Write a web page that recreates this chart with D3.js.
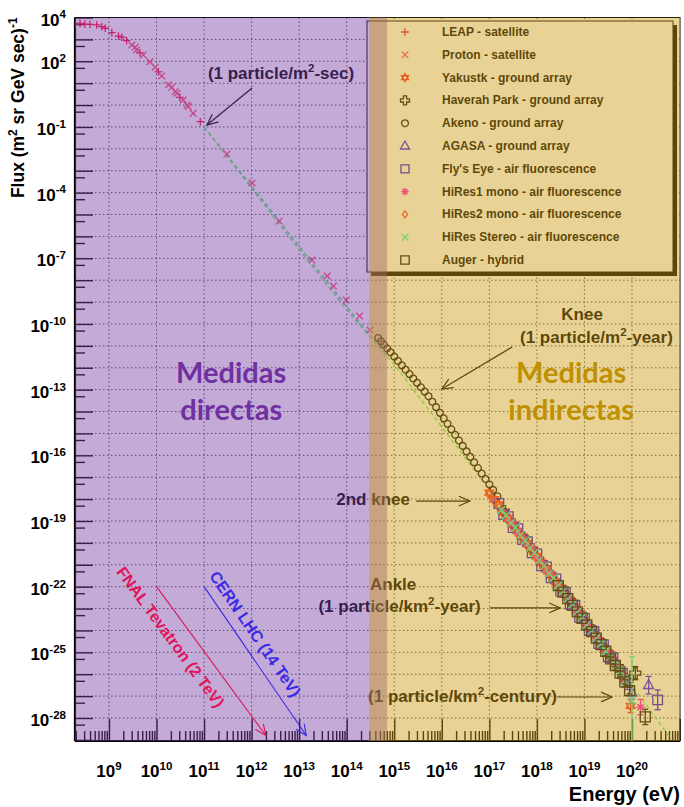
<!DOCTYPE html>
<html>
<head>
<meta charset="utf-8">
<script src="https://cdn.jsdelivr.net/npm/d3@7"></script>
<style>
  body { margin: 0; background: #ffffff; }
  svg { display: block; }
  text { font-family: "Liberation Sans", Arial, sans-serif; font-weight: bold; }
</style>
</head>
<body>
<div id="chart"></div>
<script>
// All values are log10(E / eV) and log10(flux)
const xTickExps = [9, 10, 11, 12, 13, 14, 15, 16, 17, 18, 19, 20];
const yTickExps = [4, 2, -1, -4, -7, -10, -13, -16, -19, -22, -25, -28];

// [logE, logFlux, optional error half-length in decades]
const leapPoints = [[8.28,3.70],[8.39,3.73],[8.49,3.70],[8.60,3.69],[8.74,3.66],[8.85,3.58],[8.92,3.51],
  [9.06,3.31],[9.20,3.15],[9.27,3.10],[9.37,2.94],[9.65,2.39],[10.04,1.52],[10.49,0.35],[10.92,-0.76]];
const protonPoints = [[9.48,2.74],[9.55,2.64],[9.58,2.52],[9.72,2.29],[9.86,1.98],[9.97,1.73],[10.11,1.33],
  [10.25,0.92],[10.32,0.81],[10.39,0.61],[10.43,0.54],[10.56,0.23],[10.64,0.00],[10.67,-0.07],[10.77,-0.38],
  [11.48,-2.24],[12.01,-3.56],[12.58,-5.30],[13.27,-7.08],[13.59,-7.81],[13.72,-8.27],[13.99,-8.91],
  [14.27,-9.64],[14.49,-10.28]];
const yakutskPoints = [[17.0,-17.7],[17.1,-18.0],[17.2,-18.25],[17.3,-18.6],[17.4,-18.85],[17.5,-19.15],
  [17.6,-19.45],[17.7,-19.7],[17.8,-20.0],[17.9,-20.3],[18.0,-20.6],[18.1,-20.9],[18.2,-21.15],[18.3,-21.45],
  [18.4,-21.75],[18.5,-22.05],[18.6,-22.35],[18.7,-22.6],[18.8,-22.95],[18.9,-23.2],[19.0,-23.55,0.06],
  [19.1,-23.85,0.07],[19.2,-24.1,0.08],[19.3,-24.45,0.1],[19.4,-24.75,0.12],[19.5,-25.0,0.14],
  [19.6,-25.35,0.16],[19.7,-25.7,0.2],[19.8,-26.05,0.25],[19.97,-27.45,0.3]];
const haverahPoints = [[17.3,-18.55],[17.5,-19.15],[17.7,-19.75],[17.9,-20.3],[18.1,-20.9],[18.3,-21.5],
  [18.5,-22.05],[18.7,-22.65],[18.9,-23.25],[19.1,-23.85,0.1],[19.3,-24.45,0.1],[19.5,-25.05,0.12],
  [19.7,-25.65,0.15],[19.9,-26.3,0.2],[20.07,-25.95,0.3]];
const akenoPoints = [[14.66,-10.64],[14.72,-10.79],[14.78,-10.94],[14.85,-11.12],[14.92,-11.29],[15.00,-11.49],
  [15.08,-11.69],[15.16,-11.89],[15.24,-12.09],[15.32,-12.29],[15.40,-12.49],[15.48,-12.69],[15.56,-12.89],
  [15.64,-13.09],[15.72,-13.30],[15.80,-13.55],[15.88,-13.80],[15.96,-14.06],[16.04,-14.31],[16.12,-14.56],
  [16.20,-14.81],[16.28,-15.06],[16.36,-15.32],[16.44,-15.57],[16.52,-15.82],[16.60,-16.07],[16.68,-16.32],
  [16.76,-16.58],[16.84,-16.83],[16.92,-17.08],[17.00,-17.33],[17.08,-17.58],[17.17,-17.87]];
const agasaPoints = [[18.5,-22.0],[18.6,-22.3],[18.7,-22.6],[18.8,-22.9],[18.9,-23.2],[19.0,-23.5,0.06],
  [19.1,-23.8,0.07],[19.2,-24.1,0.08],[19.3,-24.4,0.09],[19.4,-24.7,0.1],[19.5,-25.0,0.12],[19.6,-25.3,0.14],
  [19.7,-25.65,0.16],[19.8,-26.0,0.2],[19.9,-26.45,0.25],[20.0,-26.85,0.3],[20.35,-26.5,0.4]];
const flysEyePoints = [[17.2,-18.2],[17.3,-18.7],[17.4,-18.8],[17.5,-19.3],[17.6,-19.35],[17.7,-19.85],
  [17.8,-19.95],[17.9,-20.45],[18.0,-20.5],[18.1,-21.05],[18.2,-21.1],[18.3,-21.6],[18.4,-21.65],
  [18.5,-22.2,0.08],[18.6,-22.25,0.1],[18.7,-22.8,0.12],[18.8,-22.85,0.2],[18.9,-23.4,0.2],[19.0,-23.45,0.25],
  [19.1,-24.0,0.2],[19.2,-24.05,0.25],[19.3,-24.6,0.2],[19.4,-24.65,0.2],[19.5,-25.2,0.25],[19.6,-25.25,0.25],
  [19.8,-25.95,0.3],[20.54,-27.17,0.45]];
const hires1Points = [[17.4,-18.95],[17.5,-19.1],[17.6,-19.55],[17.7,-19.7],[17.8,-20.1],[17.9,-20.25],
  [18.0,-20.7],[18.1,-20.85],[18.2,-21.3],[18.3,-21.4],[18.4,-21.85],[18.5,-22.0],[18.6,-22.45],[18.7,-22.6],
  [18.8,-23.05],[18.9,-23.2],[19.0,-23.65],[19.1,-23.8],[19.2,-24.25,0.08],[19.3,-24.4,0.09],
  [19.4,-24.85,0.1],[19.5,-25.0,0.12],[19.6,-25.5,0.14],[19.7,-25.65,0.16],[19.8,-26.2,0.2],[20.18,-27.5,0.35]];
const hires2Points = [[17.0,-17.8],[17.1,-18.1],[17.2,-18.4],[17.3,-18.7],[17.4,-19.0],[17.5,-19.3],
  [17.6,-19.6],[17.7,-19.85],[17.8,-20.15],[17.9,-20.45],[18.0,-20.7],[18.1,-21.0],[18.2,-21.3],
  [18.3,-21.55],[18.4,-21.85],[18.5,-22.15]];
const hiresStereoPoints = [[17.25,-18.5],[17.35,-18.75],[17.45,-19.1],[17.55,-19.3],[17.65,-19.65],
  [17.75,-19.9],[17.85,-20.25],[17.95,-20.45],[18.05,-20.8],[18.15,-21.05],[18.25,-21.4],[18.35,-21.6],
  [18.45,-21.95],[18.55,-22.2],[18.65,-22.55],[18.75,-22.8],[18.85,-23.15],[18.95,-23.4],[19.05,-23.75],
  [19.15,-24.0],[19.25,-24.35,0.08],[19.35,-24.6,0.1],[19.45,-24.95,0.12],[19.55,-25.2,0.12],
  [19.65,-25.6,0.15],[19.75,-25.85,0.18],[19.85,-26.3,0.22],[20.0,-27.2,2.0]];
const augerPoints = [[18.45,-21.95],[18.55,-22.25],[18.65,-22.55],[18.75,-22.85],[18.85,-23.15],[18.95,-23.45],
  [19.05,-23.75],[19.15,-24.05],[19.25,-24.35],[19.35,-24.65],[19.45,-24.95],[19.55,-25.3,0.05],
  [19.65,-25.6,0.06],[19.75,-25.95,0.08],[19.85,-26.35,0.1],[19.95,-26.75,0.15],[20.28,-27.95,0.35]];

// reference power laws (dashed)
const fitLineA = [[11,-1.0],[12,-3.7],[13,-6.45],[14,-9.2],[14.7,-11.1]];
const fitLineB = [[11,-1.0],[12,-3.8],[13,-6.6],[14,-9.35],[15,-11.85],[16,-14.7],[17,-17.55],
  [18,-20.45],[19,-23.4],[20,-26.5],[20.8,-28.9]];

const legendNames = ["LEAP - satellite", "Proton - satellite", "Yakustk - ground array",
  "Haverah Park - ground array", "Akeno - ground array", "AGASA - ground array",
  "Fly's Eye - air fluorescence", "HiRes1 mono - air fluorescence", "HiRes2 mono - air fluorescence",
  "HiRes Stereo - air fluorescence", "Auger - hybrid"];
const seriesPoints = [leapPoints, protonPoints, yakutskPoints, haverahPoints, akenoPoints, agasaPoints,
  flysEyePoints, hires1Points, hires2Points, hiresStereoPoints, augerPoints];

// region limits (log10 E)
const directEnd = 14.85;
const indirectStart = 14.47;

// marker style per series (plot size, legend size)
const markerStyle = [
  { sym: "plus", color: "#ff0a3a", size: 3.8, leg: 3.8 },
  { sym: "x", color: "#ff4c70", size: 3.3, leg: 3.3 },
  { sym: "star", color: "#ff2a20", size: 5, leg: 4 },
  { sym: "cross", color: "#111111", size: 5.5, leg: 4.5 },
  { sym: "circle", color: "#111111", size: 3.4, leg: 3.4 },
  { sym: "triangle", color: "#3a1cff", size: 5.5, leg: 5 },
  { sym: "square", color: "#2a10e6", size: 4.8, leg: 4 },
  { sym: "asterisk", color: "#ff18c8", size: 4.5, leg: 3.8 },
  { sym: "diamond", color: "#ff4a40", size: 4.5, leg: 3.5 },
  { sym: "x", color: "#30ffd0", size: 4, leg: 3.5 },
  { sym: "square", color: "#111111", size: 5, leg: 4.2 }
];

const W = 684, H = 807;
const plot = { left: 75, right: 680, top: 17.5, bottom: 741 };

const x = d3.scaleLog().domain([Math.pow(10, 8.285), Math.pow(10, 21.01)]).range([plot.left, plot.right]);
const y = d3.scaleLog().domain([Math.pow(10, -29.05), Math.pow(10, 4)]).range([plot.bottom, plot.top]);
const px = e => x(Math.pow(10, e));
const py = f => y(Math.pow(10, f));

const svg = d3.select('#chart').append('svg').attr('width', W).attr('height', H);

svg.append('defs').append('clipPath').attr('id', 'clip')
  .append('rect').attr('x', plot.left).attr('y', plot.top)
  .attr('width', plot.right - plot.left).attr('height', plot.bottom - plot.top);

// white canvas of the plot, everything below gets tinted by the overlays
const base = svg.append('g');
base.append('rect').attr('x', plot.left).attr('y', plot.top)
  .attr('width', plot.right - plot.left).attr('height', plot.bottom - plot.top).attr('fill', '#ffffff');

// dotted grid at every decade
const grid = base.append('g').attr('stroke', '#000').attr('stroke-width', 1)
  .attr('stroke-dasharray', '1.5,2.5').attr('opacity', 0.7);
d3.range(9, 21).forEach(n => {
  grid.append('line').attr('x1', px(n)).attr('x2', px(n)).attr('y1', plot.top).attr('y2', plot.bottom);
});
d3.range(-28, 4).forEach(n => {
  grid.append('line').attr('x1', plot.left).attr('x2', plot.right).attr('y1', py(n)).attr('y2', py(n));
});

// ticks (ROOT style, pointing inwards)
const majorX = d3.range(8, 22).map(n => Math.pow(10, n)).filter(v => v >= x.domain()[0] && v <= x.domain()[1]);
const minorX = [];
d3.range(8, 21).forEach(n => d3.range(2, 10).forEach(m => {
  const v = m * Math.pow(10, n);
  if (v >= x.domain()[0] && v <= x.domain()[1]) minorX.push(v);
}));
const majorY = d3.range(-29, 5).map(n => Math.pow(10, n)).filter(v => v >= y.domain()[0] && v <= y.domain()[1]);
const minorY = d3.range(-30, 4).map(n => 5 * Math.pow(10, n)).filter(v => v >= y.domain()[0] && v <= y.domain()[1]);

function tickAxis(axis, values, size) {
  const g = base.append('g').call(axis.tickValues(values).tickSize(size).tickFormat(''));
  g.select('.domain').remove();
  g.selectAll('line').attr('stroke', '#000').attr('stroke-width', 1.4);
  return g;
}
tickAxis(d3.axisBottom(x), majorX, -22).attr('transform', `translate(0,${plot.bottom})`);
tickAxis(d3.axisBottom(x), minorX, -10).attr('transform', `translate(0,${plot.bottom})`);
tickAxis(d3.axisLeft(y), majorY, -18).attr('transform', `translate(${plot.left},0)`);
tickAxis(d3.axisLeft(y), minorY, -10).attr('transform', `translate(${plot.left},0)`);

// frame
base.append('rect').attr('x', plot.left).attr('y', plot.top)
  .attr('width', plot.right - plot.left).attr('height', plot.bottom - plot.top)
  .attr('fill', 'none').attr('stroke', '#000').attr('stroke-width', 1);
base.append('line').attr('x1', plot.left).attr('x2', plot.left).attr('y1', plot.top).attr('y2', plot.bottom)
  .attr('stroke', '#000').attr('stroke-width', 2.2);
base.append('line').attr('x1', plot.left).attr('x2', plot.right).attr('y1', plot.bottom).attr('y2', plot.bottom)
  .attr('stroke', '#000').attr('stroke-width', 2.2);

// marker shapes
function markerPath(sym, s) {
  switch (sym) {
    case 'plus': return `M${-s},0H${s}M0,${-s}V${s}`;
    case 'x': return `M${-s},${-s}L${s},${s}M${-s},${s}L${s},${-s}`;
    case 'asterisk': {
      const d = s * 0.7;
      return `M${-s},0H${s}M0,${-s}V${s}M${-d},${-d}L${d},${d}M${-d},${d}L${d},${-d}`;
    }
    case 'circle': return `M${s},0A${s},${s} 0 1,1 ${-s},0A${s},${s} 0 1,1 ${s},0Z`;
    case 'square': return `M${-s},${-s}H${s}V${s}H${-s}Z`;
    case 'triangle': return `M0,${-s}L${s * 0.9},${s * 0.6}L${-s * 0.9},${s * 0.6}Z`;
    case 'diamond': return `M0,${-s}L${s * 0.75},0L0,${s}L${-s * 0.75},0Z`;
    case 'star': {
      const a = s * 0.87, b = s * 0.5;
      return `M0,${-s}L${a},${b}L${-a},${b}ZM0,${s}L${a},${-b}L${-a},${-b}Z`;
    }
    case 'cross': {
      const t = s * 0.35;
      return `M${-t},${-s}H${t}V${-t}H${s}V${t}H${t}V${s}H${-t}V${t}H${-s}V${-t}H${-t}Z`;
    }
  }
}

// dashed reference lines
const line = d3.line().x(d => px(d[0])).y(d => py(d[1]));
const data = base.append('g').attr('clip-path', 'url(#clip)');
data.append('path').datum(fitLineA).attr('d', line).attr('fill', 'none')
  .attr('stroke', '#56e67a').attr('stroke-width', 1.5).attr('stroke-dasharray', '4,3');
data.append('path').datum(fitLineB).attr('d', line).attr('fill', 'none')
  .attr('stroke', '#6cf070').attr('stroke-width', 1.5).attr('stroke-dasharray', '4,3');

// data series
seriesPoints.forEach((pts, i) => {
  const st = markerStyle[i];
  const g = data.append('g').attr('stroke', st.color).attr('fill', 'none').attr('stroke-width', 1.3);
  pts.filter(p => p[2]).forEach(p => {
    g.append('line').attr('x1', px(p[0])).attr('x2', px(p[0]))
      .attr('y1', py(p[1] - p[2])).attr('y2', py(p[1] + p[2]));
    [p[1] - p[2], p[1] + p[2]].forEach(f => {
      g.append('line').attr('x1', px(p[0]) - 3).attr('x2', px(p[0]) + 3).attr('y1', py(f)).attr('y2', py(f));
    });
  });
  g.selectAll('path').data(pts).enter().append('path')
    .attr('transform', d => `translate(${px(d[0])},${py(d[1])})`)
    .attr('d', markerPath(st.sym, st.size));
});

// legend box
const lg = base.append('g');
lg.append('rect').attr('x', 371).attr('y', 25).attr('width', 306).attr('height', 251).attr('fill', '#000');
lg.append('rect').attr('x', 367).attr('y', 21).attr('width', 306).attr('height', 251)
  .attr('fill', '#ffffff').attr('stroke', '#000').attr('stroke-width', 1);
legendNames.forEach((name, i) => {
  const st = markerStyle[i];
  const yy = 32 + i * 22.8;
  lg.append('path').attr('transform', `translate(405,${yy})`).attr('d', markerPath(st.sym, st.leg))
    .attr('fill', 'none').attr('stroke', st.color).attr('stroke-width', 1.3);
  lg.append('text').attr('x', 442).attr('y', yy + 4).attr('font-size', 12).attr('fill', '#000').text(name);
});

// text with superscripts: parts = [[text, isSup], ...]
function richText(g, xx, yy, parts, size, anchor, color) {
  const t = g.append('text').attr('x', xx).attr('y', yy).attr('font-size', size)
    .attr('text-anchor', anchor).attr('fill', color);
  let up = false;
  parts.forEach(([s, sup]) => {
    const ts = t.append('tspan').text(s);
    if (sup && !up) { ts.attr('dy', -size * 0.42).attr('font-size', size * 0.68); up = true; }
    else if (sup) { ts.attr('font-size', size * 0.68); }
    else if (!sup && up) { ts.attr('dy', size * 0.42); up = false; }
  });
  return t;
}

function arrow(g, e1, f1, e2, f2, color, width) {
  const x1 = px(e1), y1 = py(f1), x2 = px(e2), y2 = py(f2);
  const ang = Math.atan2(y2 - y1, x2 - x1), len = 12, spread = 0.42;
  g.append('line').attr('x1', x1).attr('y1', y1).attr('x2', x2).attr('y2', y2)
    .attr('stroke', color).attr('stroke-width', width);
  g.append('path')
    .attr('d', `M${x2 - len * Math.cos(ang - spread)},${y2 - len * Math.sin(ang - spread)}L${x2},${y2}` +
      `L${x2 - len * Math.cos(ang + spread)},${y2 - len * Math.sin(ang + spread)}`)
    .attr('fill', 'none').attr('stroke', color).attr('stroke-width', width);
}

// annotations under the tint
const ann = base.append('g');
const AF = 17;
richText(ann, px(11.08), py(1.19), [["(1 particle/m", 0], ["2", 1], ["-sec)", 0]], AF, 'start', '#000');
arrow(ann, 12.01, 0.78, 11.06, -0.91, '#000', 1.2);
richText(ann, px(18.95), py(-9.82), [["Knee", 0]], AF, 'middle', '#000');
richText(ann, px(20.86), py(-10.87), [["(1 particle/m", 0], ["2", 1], ["-year)", 0]], AF, 'end', '#000');
arrow(ann, 17.48, -11.05, 16.0, -12.97, '#000', 1.2);
richText(ann, px(15.33), py(-18.27), [["2nd knee", 0]], AF, 'end', '#000');
arrow(ann, 15.46, -18.09, 16.59, -18.09, '#000', 1.2);
richText(ann, px(14.49), py(-22.15), [["Ankle", 0]], AF, 'start', '#000');
richText(ann, px(16.82), py(-23.16), [["(1 particle/km", 0], ["2", 1], ["-year)", 0]], AF, 'end', '#000');
arrow(ann, 17.01, -22.97, 18.49, -22.97, '#000', 1.2);
richText(ann, px(18.42), py(-27.28), [["(1 particle/km", 0], ["2", 1], ["-century)", 0]], AF, 'end', '#000');
arrow(ann, 18.42, -27.04, 19.58, -27.04, '#000', 1.2);

// tinted regions: direct (purple) and indirect (yellow) measurements; the overlap gives the brown band
svg.append('rect').attr('x', plot.left).attr('y', plot.top)
  .attr('width', px(directEnd) - plot.left).attr('height', plot.bottom - plot.top)
  .attr('fill', '#7a42a6').attr('fill-opacity', 0.45);
svg.append('rect').attr('x', px(indirectStart)).attr('y', plot.top)
  .attr('width', plot.right - px(indirectStart)).attr('height', plot.bottom - plot.top)
  .attr('fill', '#cc9b16').attr('fill-opacity', 0.45);

// labels drawn on top of the tint
const front = svg.append('g');
function bigLabel(e, f, label, color) {
  front.append('text').attr('x', px(e)).attr('y', py(f)).attr('text-anchor', 'middle')
    .attr('font-size', 29).style('font-family', 'Lato, "Open Sans", sans-serif')
    .attr('fill', color).text(label);
}
bigLabel(11.57, -12.70, 'Medidas', '#7030a0');
bigLabel(11.57, -14.39, 'directas', '#7030a0');
bigLabel(18.72, -12.70, 'Medidas', '#bf9000');
bigLabel(18.72, -14.39, 'indirectas', '#bf9000');

// collider energies
function collider(e1, f1, e2, f2, label, te, tf, color) {
  arrow(front, e1, f1, e2, f2, color, 1.1);
  const ang = Math.atan2(py(f2) - py(f1), px(e2) - px(e1)) * 180 / Math.PI;
  front.append('text').attr('transform', `translate(${px(te)},${py(tf)}) rotate(${ang})`)
    .attr('text-anchor', 'middle').attr('font-size', 16).attr('fill', color).text(label);
}
collider(10, -22, 12.3, -28.8, 'FNAL Tevatron (2 TeV)', 10.2, -24.45, '#e0145a');
collider(11, -22, 13.15, -28.8, 'CERN LHC (14 TeV)', 11.98, -24.3, '#3a28e6');

// tick labels
xTickExps.forEach(n => {
  richText(front, px(n), 777, [["10", 0], [String(n), 1]], 17, 'middle', '#000');
});
yTickExps.forEach(n => {
  richText(front, 66, py(n) + 8, [["10", 0], [String(n), 1]], 17, 'end', '#000');
});

// axis titles
richText(front, 680, 801, [["Energy (eV)", 0]], 20, 'end', '#000');
richText(front, 0, 0, [["Flux (m", 0], ["2", 1], [" sr GeV sec)", 0], ["-1", 1]], 17.5, 'end', '#000')
  .attr('transform', `translate(24,${plot.top}) rotate(-90)`).attr('x', null).attr('y', null);
</script>
</body>
</html>
